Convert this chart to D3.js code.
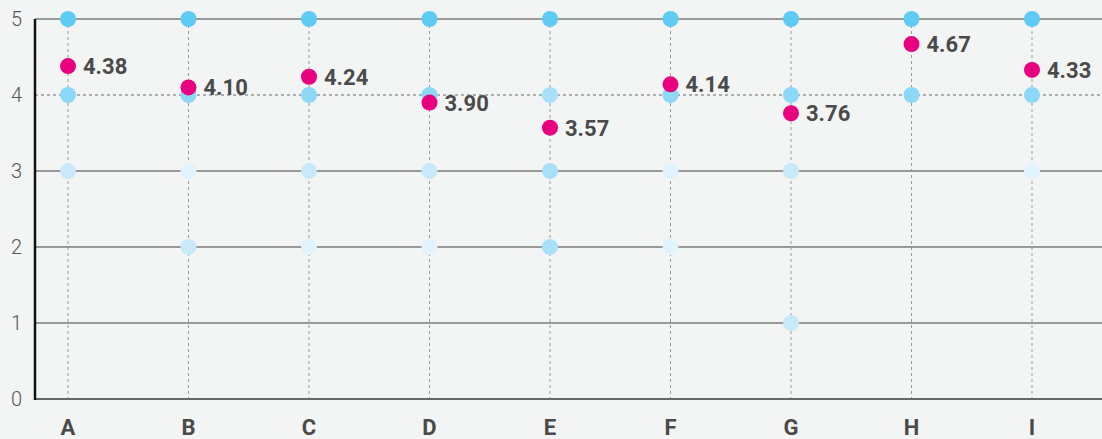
<!DOCTYPE html>
<html>
<head>
<meta charset="utf-8">
<title>Scores</title>
<script src="https://d3js.org/d3.v7.min.js"></script>
<style>
  html, body { margin: 0; padding: 0; background: #f3f5f4; }
  svg { display: block; }
</style>
</head>
<body>
<div id="chart"></div>
<script>
// categories and the mean score for each
var categories = ["A", "B", "C", "D", "E", "F", "G", "H", "I"];
var means = [4.38, 4.10, 4.24, 3.90, 3.57, 4.14, 3.76, 4.67, 4.33];

// shade of the answer dots per score (index 0 = score 1 ... index 4 = score 5), null = no answers
var shades = [
  [null, null, 1, 3, 4],
  [null, 1, 0, 3, 4],
  [null, 0, 1, 3, 4],
  [null, 0, 1, 3, 4],
  [null, 2, 2, 2, 4],
  [null, 0, 0, 3, 4],
  [1, null, 1, 3, 4],
  [null, null, null, 3, 4],
  [null, null, 0, 3, 4]
];
var scores = [1, 2, 3, 4, 5];
var yTicks = [0, 1, 2, 3, 4, 5];

var W = 1102, H = 439;
var margin = {left: 35, top: 19, bottom: 399};

var svg = d3.select("#chart").append("svg")
    .attr("width", W)
    .attr("height", H);

var x = d3.scalePoint()
    .domain(categories)
    .range([68, 1032]);

var y = d3.scaleLinear()
    .domain([0, 5])
    .range([margin.bottom, margin.top]);

var shadeColor = d3.scaleOrdinal()
    .domain([0, 1, 2, 3, 4])
    .range(["#e1f3fc", "#c7e9f9", "#a9e0f9", "#8dd7f7", "#5ecbf4"]);

// horizontal grid lines (4 is drawn dotted)
svg.selectAll(".hgrid")
  .data(yTicks.filter(function(d) { return d > 0; }))
  .enter().append("line")
    .attr("x1", margin.left)
    .attr("x2", W)
    .attr("y1", function(d) { return y(d); })
    .attr("y2", function(d) { return y(d); })
    .attr("stroke", function(d) { return d == 4 ? "#666" : "#7a7a7a"; })
    .attr("stroke-width", function(d) { return d == 4 ? 1 : 1.3; })
    .attr("stroke-dasharray", function(d) { return d == 4 ? "3,3" : null; });

// vertical dotted lines
svg.selectAll(".vgrid")
  .data(categories)
  .enter().append("line")
    .attr("x1", function(d) { return x(d); })
    .attr("x2", function(d) { return x(d); })
    .attr("y1", y(5))
    .attr("y2", y(0))
    .attr("stroke", "#999")
    .attr("stroke-width", 1)
    .attr("stroke-dasharray", "3,3");

// axes
svg.append("line")
    .attr("x1", margin.left).attr("x2", W)
    .attr("y1", y(0)).attr("y2", y(0))
    .attr("stroke", "#666")
    .attr("stroke-width", 2);

svg.append("line")
    .attr("x1", margin.left).attr("x2", margin.left)
    .attr("y1", y(5)).attr("y2", y(0) + 1)
    .attr("stroke", "#111")
    .attr("stroke-width", 2.5);

svg.selectAll(".ytick")
  .data(yTicks)
  .enter().append("text")
    .attr("x", 22)
    .attr("y", function(d) { return y(d); })
    .attr("dy", "0.36em")
    .attr("text-anchor", "end")
    .style("font-family", "Roboto, 'DejaVu Sans', sans-serif")
    .style("font-weight", 300)
    .style("font-size", "20px")
    .style("fill", "#555")
    .text(function(d) { return d; });

svg.selectAll(".xtick")
  .data(categories)
  .enter().append("text")
    .attr("x", function(d) { return x(d); })
    .attr("y", 435)
    .attr("text-anchor", "middle")
    .style("font-family", "Roboto, 'DejaVu Sans', sans-serif")
    .style("font-weight", 700)
    .style("font-size", "22px")
    .style("fill", "#4a4a4a")
    .text(function(d) { return d; });

// answer dots
var dots = [];
categories.forEach(function(c, i) {
  scores.forEach(function(s, j) {
    if (shades[i][j] !== null) dots.push({cat: c, score: s, shade: shades[i][j]});
  });
});

svg.selectAll(".answer")
  .data(dots)
  .enter().append("circle")
    .attr("cx", function(d) { return x(d.cat); })
    .attr("cy", function(d) { return y(d.score); })
    .attr("r", 8)
    .attr("fill", function(d) { return shadeColor(d.shade); });

// mean dots and labels
svg.selectAll(".mean")
  .data(means)
  .enter().append("circle")
    .attr("cx", function(d, i) { return x(categories[i]); })
    .attr("cy", function(d) { return y(d); })
    .attr("r", 8)
    .attr("fill", "#e8007f");

svg.selectAll(".meanLabel")
  .data(means)
  .enter().append("text")
    .attr("x", function(d, i) { return x(categories[i]) + 15; })
    .attr("y", function(d) { return y(d); })
    .attr("dy", "0.36em")
    .style("font-family", "Roboto, 'DejaVu Sans', sans-serif")
    .style("font-weight", 700)
    .style("font-size", "22px")
    .style("fill", "#4a4a4a")
    .text(function(d) { return d.toFixed(2); });
</script>
</body>
</html>
